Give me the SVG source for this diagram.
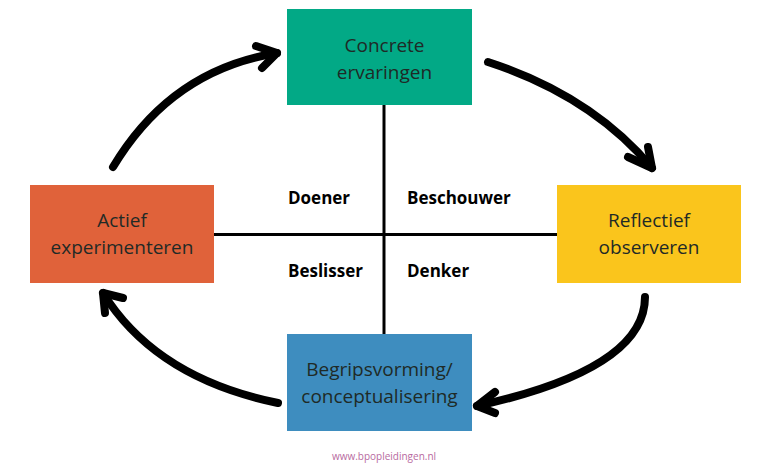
<svg xmlns="http://www.w3.org/2000/svg" width="768" height="467" viewBox="0 0 768 467">
<style>
.box-text{font-family:"Open Sans","Noto Sans",sans-serif;font-size:19px;fill:#1f2a26;text-anchor:middle}
.lbl{font-family:"Open Sans","Noto Sans",sans-serif;font-size:17px;font-weight:bold;fill:#000}
.arrow{fill:none;stroke:#000;stroke-width:8;stroke-linecap:round;stroke-linejoin:round}
.axis{stroke:#000;stroke-width:3}
</style>
<rect width="768" height="467" fill="#fff"/>
<g id="axes" class="connectors">
<line class="axis" x1="384" y1="105" x2="384" y2="334"/>
<line class="axis" x1="214" y1="234.5" x2="557" y2="234.5"/>
</g>
<g id="connectors">
<path class="arrow" d="M113,167 Q171,70 277,53"/>
<path class="arrow" d="M256,46 L277,53 L262,68"/>
<path class="arrow" d="M488,62 Q592,96 652,168"/>
<path class="arrow" d="M628,157 L652,168 L648,147"/>
<path class="arrow" d="M645,297 Q645,369 477,406"/>
<path class="arrow" d="M495,392 L477,406 L495,413"/>
<path class="arrow" d="M278,403 Q156,378 103,293"/>
<path class="arrow" d="M123,298 L103,293 L105,313"/>
</g>
<g id="node-concrete">
<rect x="287" y="9" width="185" height="96" fill="#02a986"/>
<text class="box-text" x="384.5" y="52">Concrete</text>
<text class="box-text" x="384.5" y="79">ervaringen</text>
</g>
<g id="node-actief">
<rect x="30" y="185" width="184" height="98" fill="#e0623a"/>
<text class="box-text" x="122" y="227">Actief</text>
<text class="box-text" x="122" y="254">experimenteren</text>
</g>
<g id="node-reflectief">
<rect x="557" y="185" width="184" height="98" fill="#fac51c"/>
<text class="box-text" x="649" y="227">Reflectief</text>
<text class="box-text" x="649" y="254">observeren</text>
</g>
<g id="node-begrip">
<rect x="287" y="334" width="185" height="97" fill="#3e8dbf"/>
<text class="box-text" x="379.5" y="376">Begripsvorming/</text>
<text class="box-text" x="379.5" y="403">conceptualisering</text>
</g>
<g id="labels">
<text class="lbl" x="288" y="204">Doener</text>
<text class="lbl" x="407" y="204">Beschouwer</text>
<text class="lbl" x="288" y="277">Beslisser</text>
<text class="lbl" x="407" y="277">Denker</text>
</g>
<text x="384" y="460" font-family="'Open Sans','Noto Sans',sans-serif" font-size="10px" fill="#b86aa0" text-anchor="middle">www.bpopleidingen.nl</text>
</svg>
